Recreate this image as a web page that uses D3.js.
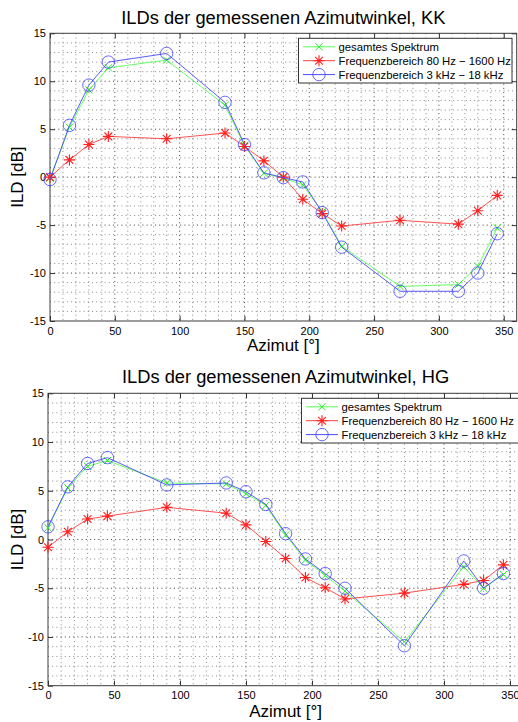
<!DOCTYPE html>
<html><head><meta charset="utf-8">
<script src="https://cdn.jsdelivr.net/npm/d3@7"></script>
<style>
body{margin:0;background:#fff;}
svg{display:block;background:#fff;}
text{font-family:"Liberation Sans",Arial,Helvetica,sans-serif;fill:#000;}
</style>
</head><body>
<svg id="chart" width="518" height="722"></svg>
<script>
// ---- data ----
const azimuth = [0, 15, 30, 45, 90, 135, 150, 165, 180, 195, 210, 225, 270, 315, 330, 345];

const kkGesamt = [-0.1, 5.2, 9.1, 11.4, 12.2, 7.5, 3.3, 0.4, -0.1, -0.8, -3.6, -7.2, -11.4, -11.2, -9.3, -5.3];
const kkTief   = [0.0, 1.8, 3.4, 4.25, 4.0, 4.6, 3.2, 1.7, 0.0, -2.3, -3.8, -5.1, -4.5, -4.9, -3.5, -1.9];
const kkHoch   = [-0.25, 5.4, 9.6, 12.0, 12.9, 7.8, 3.4, 0.45, -0.05, -0.5, -3.7, -7.3, -11.9, -11.9, -10.0, -5.9];

const hgGesamt = [1.2, 5.3, 7.5, 8.1, 5.8, 5.7, 4.7, 3.5, 0.45, -2.1, -3.7, -5.3, -10.5, -2.8, -5.0, -3.6];
const hgTief   = [-0.8, 0.8, 2.1, 2.4, 3.3, 2.7, 1.5, -0.2, -1.95, -3.9, -4.95, -6.1, -5.5, -4.6, -4.2, -2.6];
const hgHoch   = [1.3, 5.4, 7.8, 8.4, 5.6, 5.8, 4.9, 3.6, 0.6, -2.0, -3.5, -5.0, -10.9, -2.2, -5.0, -3.5];

const titles = ["ILDs der gemessenen Azimutwinkel, KK", "ILDs der gemessenen Azimutwinkel, HG"];
const legendLabels = ["gesamtes Spektrum", "Frequenzbereich 80 Hz \u2212 1600 Hz", "Frequenzbereich 3 kHz \u2212 18 kHz"];
const xLabel = "Azimut [°]";
const yLabel = "ILD [dB]";
const xTicks = [0, 50, 100, 150, 200, 250, 300, 350];
const yTicks = [-15, -10, -5, 0, 5, 10, 15];
const xDomain = [0, 360];
const yDomain = [-15, 15];

// ---- styles ----
const seriesStyle = [
  {color: "#22ee22", line: "#55ff55", marker: "x"},
  {color: "#ff2020", line: "#ff4040", marker: "star"},
  {color: "#3a3aff", line: "#4a4aff", marker: "o"}
];

const panels = [
  {title: titles[0], series: [kkGesamt, kkTief, kkHoch],
   box: {l: 50, r: 516.7, t: 33.3, b: 321}, titleY: 23.5, xLabelY: 350.5},
  {title: titles[1], series: [hgGesamt, hgTief, hgHoch],
   box: {l: 48, r: 523.2, t: 393.3, b: 685.7}, titleY: 383, xLabelY: 716.5}
];

const svg = d3.select("#chart");

function drawMarker(g, type, x, y, color, scale) {
  const s = scale || 1;
  if (type === "o") {
    g.append("circle").attr("cx", x).attr("cy", y).attr("r", 6.2 * s)
      .attr("fill", "none").attr("stroke", color).attr("stroke-width", 0.9).attr("stroke-opacity", 0.85);
  } else if (type === "x") {
    const a = 3.6 * s;
    g.append("path").attr("d", `M${x-a},${y-a}L${x+a},${y+a}M${x-a},${y+a}L${x+a},${y-a}`)
      .attr("stroke", color).attr("stroke-width", 1).attr("fill", "none");
  } else {
    const a = 5.5 * s, b = 3.9 * s;
    g.append("path").attr("d", `M${x-a},${y}H${x+a}M${x},${y-a}V${y+a}M${x-b},${y-b}L${x+b},${y+b}M${x-b},${y+b}L${x+b},${y-b}`)
      .attr("stroke", color).attr("stroke-width", 1.1).attr("fill", "none");
  }
}

panels.forEach(p => {
  const {l, r, t, b} = p.box;
  const x = d3.scaleLinear().domain(xDomain).range([l, r]);
  const y = d3.scaleLinear().domain(yDomain).range([b, t]);
  const g = svg.append("g");

  // minor grid
  const minorX = d3.range(xDomain[0] + 10, xDomain[1], 10).filter(v => v % 50 !== 0);
  const minorY = d3.range(yDomain[0] + 1, yDomain[1], 1).filter(v => v % 5 !== 0);
  g.append("g").selectAll("line").data(minorX).join("line")
    .attr("x1", d => x(d)).attr("x2", d => x(d)).attr("y1", t).attr("y2", b)
    .attr("stroke", "#8a8a8a").attr("stroke-width", 1).attr("stroke-dasharray", "1,3.2");
  g.append("g").selectAll("line").data(minorY).join("line")
    .attr("y1", d => y(d)).attr("y2", d => y(d)).attr("x1", l).attr("x2", r)
    .attr("stroke", "#8a8a8a").attr("stroke-width", 1).attr("stroke-dasharray", "1,3.2");
  // major grid
  g.append("g").selectAll("line").data(xTicks.filter(v => v > xDomain[0])).join("line")
    .attr("x1", d => x(d)).attr("x2", d => x(d)).attr("y1", t).attr("y2", b)
    .attr("stroke", "#444").attr("stroke-width", 1).attr("stroke-dasharray", "1,3.2");
  g.append("g").selectAll("line").data(yTicks.filter(v => v > yDomain[0] && v < yDomain[1])).join("line")
    .attr("y1", d => y(d)).attr("y2", d => y(d)).attr("x1", l).attr("x2", r)
    .attr("stroke", "#444").attr("stroke-width", 1).attr("stroke-dasharray", "1,3.2");

  // axes (inward ticks)
  const ax = g.append("g").attr("transform", `translate(0,${b})`)
    .call(d3.axisBottom(x).tickValues(xTicks).tickSizeInner(-5).tickSizeOuter(0).tickPadding(6));
  const axT = g.append("g").attr("transform", `translate(0,${t})`)
    .call(d3.axisTop(x).tickValues(xTicks).tickSizeInner(-5).tickSizeOuter(0).tickFormat(""));
  const ay = g.append("g").attr("transform", `translate(${l},0)`)
    .call(d3.axisLeft(y).tickValues(yTicks).tickSizeInner(-5).tickSizeOuter(0).tickPadding(4).tickFormat(d => d < 0 ? "-" + Math.abs(d) : String(d)));
  const ayR = g.append("g").attr("transform", `translate(${r},0)`)
    .call(d3.axisRight(y).tickValues(yTicks).tickSizeInner(-5).tickSizeOuter(0).tickFormat(""));
  [ax, axT, ay, ayR].forEach(a => {
    a.select(".domain").remove();
    a.selectAll(".tick line").attr("stroke", "#333");
    a.selectAll("text").attr("font-size", 11).attr("fill", "#1a1a1a")
      .style("font-family", '"Liberation Sans",Arial,sans-serif');
  });
  ax.selectAll("text").attr("dy", "0.71em");

  // box
  g.append("rect").attr("x", l).attr("y", t).attr("width", r - l).attr("height", b - t)
    .attr("fill", "none").attr("stroke", "#3a3a3a").attr("stroke-width", 1);

  // series
  const line = d3.line().x((d, i) => x(azimuth[i])).y(d => y(d));
  const clipId = "clip" + t;
  svg.append("clipPath").attr("id", clipId).append("rect").attr("x", 0).attr("y", t - 10).attr("width", 518).attr("height", b - t + 20);
  const sg = g.append("g").attr("clip-path", `url(#${clipId})`);
  p.series.forEach((vals, k) => {
    const st = seriesStyle[k];
    sg.append("path").datum(vals).attr("d", line).attr("fill", "none")
      .attr("stroke", st.line).attr("stroke-width", 0.9);
    vals.forEach((v, i) => drawMarker(sg, st.marker, x(azimuth[i]), y(v), st.color));
  });

  // legend
  const lx = l + (p.box === panels[0].box ? 248.3 : 253.7) - (l - 50) ;
  const legL = p.box.t < 100 ? 298.5 : 301.5;
  const legT = t + 5;
  const legW = p.box.t < 100 ? 213.5 : 217;
  const legH = 44.7;
  const lg = g.append("g");
  lg.append("rect").attr("x", legL).attr("y", legT).attr("width", legW).attr("height", legH)
    .attr("fill", "#fff").attr("stroke", "#333").attr("stroke-width", 1);
  legendLabels.forEach((lab, k) => {
    const st = seriesStyle[k];
    const cy = legT + 8.5 + k * 13.9;
    lg.append("line").attr("x1", legL + 4.5).attr("x2", legL + 36.5).attr("y1", cy).attr("y2", cy)
      .attr("stroke", st.line).attr("stroke-width", 1);
    drawMarker(lg, st.marker, legL + 20.5, cy, st.color);
    lg.append("text").attr("x", legL + 40).attr("y", cy).attr("dy", "0.36em")
      .attr("font-size", 11.3).text(lab);
  });

  // title & labels
  const cx = (l + r) / 2;
  g.append("text").attr("x", cx).attr("y", p.titleY).attr("text-anchor", "middle")
    .attr("font-size", 18.3).text(p.title);
  g.append("text").attr("x", cx).attr("y", p.xLabelY).attr("text-anchor", "middle")
    .attr("font-size", 17).text(xLabel);
  g.append("text").attr("transform", `translate(23.3,${(t + b) / 2}) rotate(-90)`)
    .attr("text-anchor", "middle").attr("font-size", 17).text(yLabel);
});
</script>
</body></html>
